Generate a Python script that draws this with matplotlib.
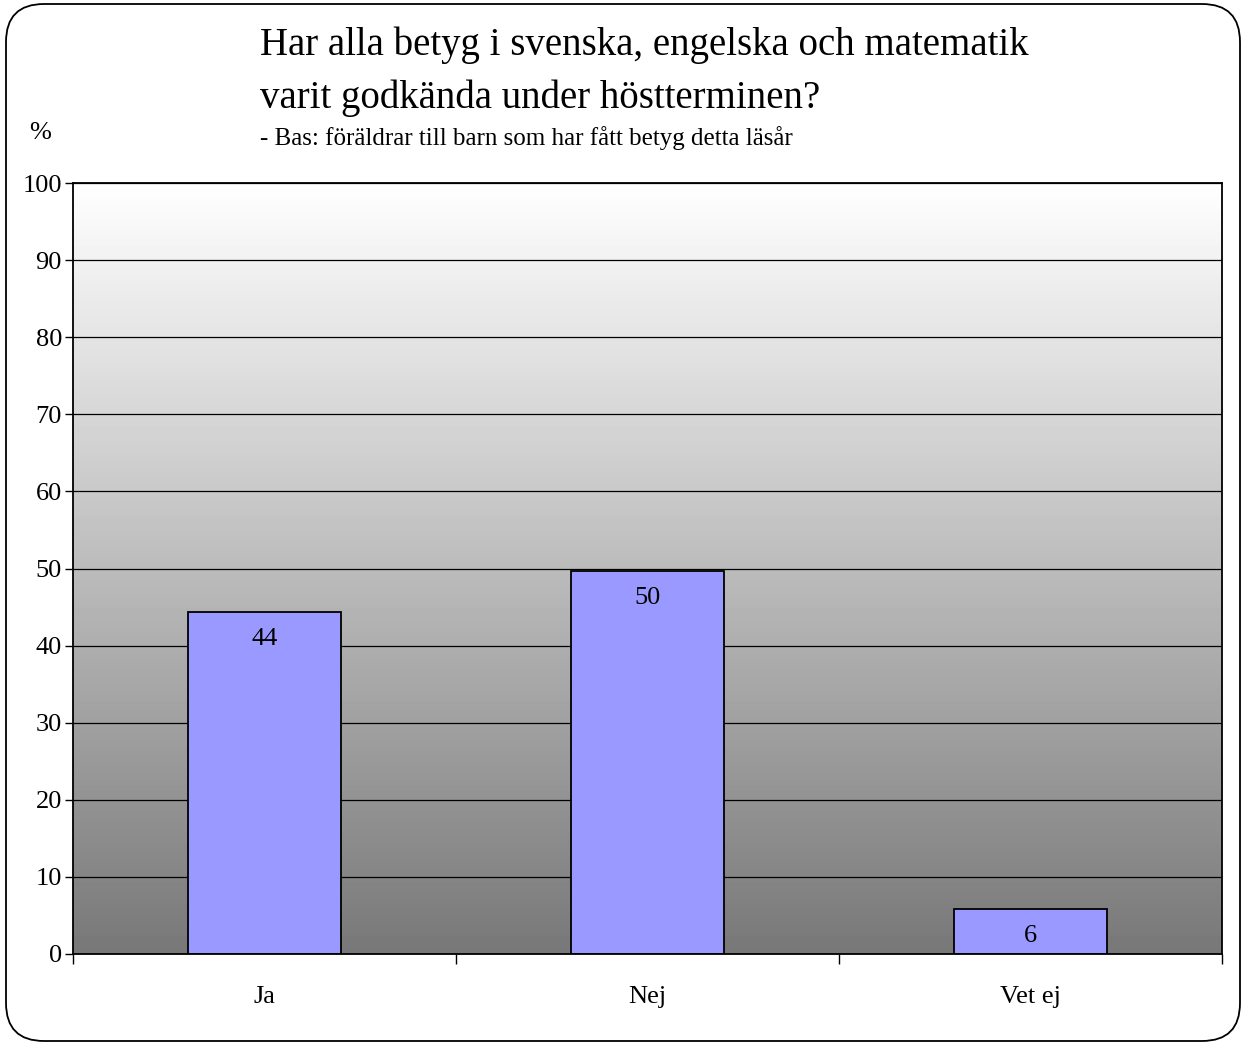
import matplotlib
matplotlib.use("Agg")
import matplotlib.pyplot as plt
import numpy as np
from matplotlib.patches import FancyBboxPatch

categories = ["Ja", "Nej", "Vet ej"]
values = [44.3, 49.7, 5.8]
value_labels = ["44", "50", "6"]
y_ticks = list(range(0, 101, 10))

title_lines = ["Har alla betyg i svenska, engelska och matematik",
               "varit godkända under höstterminen?"]
subtitle = "- Bas: föräldrar till barn som har fått betyg detta läsår"

plt.rcParams["font.family"] = ["Liberation Serif", "DejaVu Serif"]

fig = plt.figure(figsize=(12.44, 10.45), dpi=100)

# rounded frame around the whole chart
bg = fig.add_axes([0, 0, 1, 1], zorder=-5)
bg.set_xlim(0, 1244)
bg.set_ylim(0, 1045)
bg.axis("off")
bg.add_patch(FancyBboxPatch((6, 4), 1234, 1037,
                            boxstyle="round,pad=0,rounding_size=38",
                            facecolor="white", edgecolor="black", lw=1.3))

ax = fig.add_axes([73 / 1244, 1 - 954 / 1045, (1222 - 73) / 1244, (954 - 183) / 1045])
ax.set_xlim(-0.5, 2.5)
ax.set_ylim(0, 100)

# vertical gradient background, white at top to grey at bottom
grad = np.linspace(0.47, 1.0, 256).reshape(-1, 1)
ax.imshow(grad, extent=[-0.5, 2.5, 0, 100], origin="lower", aspect="auto",
          cmap="gray", vmin=0, vmax=1, zorder=0)

for y in y_ticks[1:]:
    ax.axhline(y, color="black", lw=0.9, zorder=1)

x = np.arange(len(categories))
ax.bar(x, values, width=0.4, color="#9999ff", edgecolor="black", lw=1.3, zorder=2)
for xi, v, lab in zip(x, values, value_labels):
    ax.text(xi, v - 3.5, lab, ha="center", va="center", fontsize=19, zorder=3)

ax.set_yticks(y_ticks)
ax.set_yticklabels([str(t) for t in y_ticks], fontsize=19)
ax.set_xticks([-0.5, 0.5, 1.5, 2.5])
ax.set_xticklabels([])
ax.set_xticks(x, minor=True)
ax.set_xticklabels(categories, minor=True, fontsize=19)
ax.tick_params(axis="x", which="minor", length=0, pad=23)
ax.tick_params(axis="x", which="major", length=7, width=1)
ax.tick_params(axis="y", length=6, width=1, pad=2)
for s in ax.spines.values():
    s.set_linewidth(1.3)

fig.text(260 / 1244, 1 - 45 / 1045, title_lines[0], fontsize=28, va="center", ha="left")
fig.text(260 / 1244, 1 - 98 / 1045, title_lines[1], fontsize=28, va="center", ha="left")
fig.text(260 / 1244, 1 - 138 / 1045, subtitle, fontsize=18, va="center", ha="left")
fig.text(40 / 1244, 1 - 133 / 1045, "%", fontsize=19, va="center", ha="center")

fig.savefig("out.png", dpi=100)
